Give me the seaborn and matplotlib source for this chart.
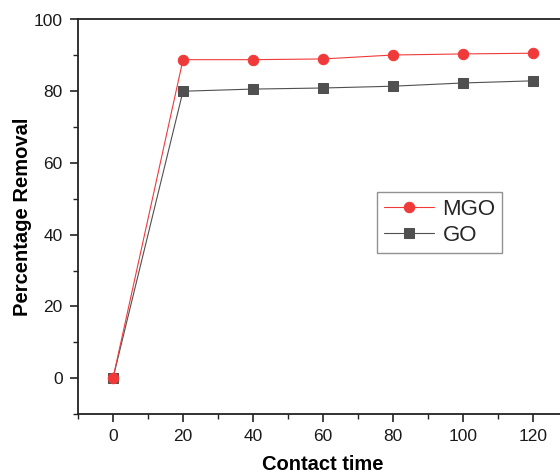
import matplotlib
matplotlib.use("Agg")
import matplotlib.pyplot as plt
import seaborn as sns
import pandas as pd
from matplotlib.ticker import MultipleLocator

time = [0, 20, 40, 60, 80, 100, 120]
mgo = [0, 88.8, 88.8, 89.0, 90.1, 90.4, 90.6]
go = [0, 80.0, 80.6, 80.9, 81.4, 82.3, 82.9]

sns.set_theme(style="ticks")
plt.rcParams['font.family'] = ['Liberation Sans', 'DejaVu Sans']

fig = plt.figure(figsize=(5.6, 4.73), dpi=100)
ax = fig.add_axes([78/560, 59/473, 490/560, 394.5/473])

df_go = pd.DataFrame({"t": time, "v": go})
df_mgo = pd.DataFrame({"t": time, "v": mgo})
sns.lineplot(data=df_go, x="t", y="v", ax=ax, color="#505050", lw=0.8,
             marker="s", markersize=7, markeredgecolor="#505050", label="GO", zorder=3)
sns.lineplot(data=df_mgo, x="t", y="v", ax=ax, color="#f03a3a", lw=0.8,
             marker="o", markersize=7.5, markeredgecolor="#f03a3a", label="MGO", zorder=4)

ax.set_xlim(-10, 130)
ax.set_ylim(-10, 100)
ax.xaxis.set_minor_locator(MultipleLocator(10))
ax.yaxis.set_minor_locator(MultipleLocator(10))
ax.set_xticks([0, 20, 40, 60, 80, 100, 120])
ax.set_yticks([0, 20, 40, 60, 80, 100])
ax.tick_params(which="major", direction="out", length=6, width=1.2, labelsize=12.5, color="#222222", labelcolor="#1a1a1a", pad=5)
ax.tick_params(which="minor", direction="out", length=3.5, width=1.0, color="#222222")
for s in ax.spines.values():
    s.set_linewidth(1.3)
    s.set_color("#222222")

ax.set_xlabel("Contact time", fontsize=14.5, fontweight="bold", labelpad=8, color="black")
ax.set_ylabel("Percentage Removal", fontsize=14.5, fontweight="bold", labelpad=1, color="black")

h, l = ax.get_legend_handles_labels()
leg = ax.legend([h[1], h[0]], [l[1], l[0]], loc="upper left",
                bbox_to_anchor=((377-78)/490, (473-192-59)/394.5),
                fontsize=16, frameon=True, fancybox=False, edgecolor="#777777",
                handlelength=2.25, handletextpad=0.4, borderpad=0.3, labelspacing=0.25,
                borderaxespad=0)
leg.get_frame().set_linewidth(1.0)

fig.savefig("out.png", dpi=100)
